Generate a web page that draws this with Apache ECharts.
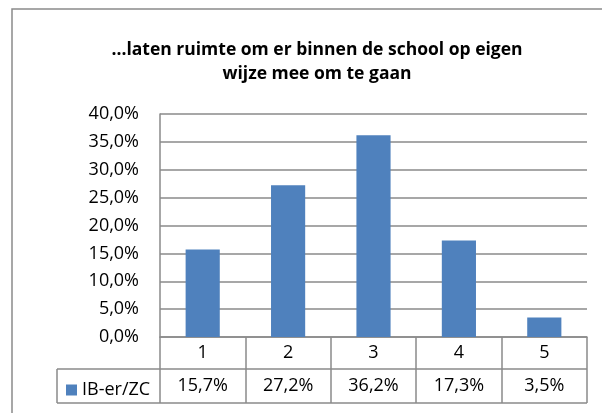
<!DOCTYPE html>
<html>
<head>
<meta charset="utf-8">
<script src="https://cdn.jsdelivr.net/npm/echarts@6/dist/echarts.min.js"></script>
<style>
  html, body { margin: 0; padding: 0; background: #fff; }
  #chart { width: 602px; height: 413px; }
</style>
</head>
<body>
<div id="chart"></div>
<script>
// Survey answers on a 1–5 scale, share of respondents per answer
const categories = ['1', '2', '3', '4', '5'];
const seriesName = 'IB-er/ZC';
const shares = [15.7, 27.2, 36.2, 17.3, 3.5];
const yTicks = { min: 0, max: 40, step: 5 };
const titleText = '...laten ruimte om er binnen de school op eigen\nwijze mee om te gaan';

const FONT = '"Open Sans", Lato, sans-serif';
const GRAY = '#8a8a8a';
const BLUE = '#4f81bd';
const LABEL_SIZE = 18;

const pct = v => v.toFixed(1).replace('.', ',') + '%';

const chart = echarts.init(document.getElementById('chart'), null, { renderer: 'canvas' });

const gridLeft = 160, gridRight = 587, gridTop = 114, gridBottom = 337;
const rowMid = 369, rowEnd = 403, legendLeft = 57;

chart.setOption({
  animation: false,
  backgroundColor: '#fff',
  title: {
    text: titleText,
    left: 312,
    textAlign: 'center',
    top: 33,
    textStyle: { fontFamily: FONT, fontSize: 17.5, fontWeight: 'bold', color: '#000', lineHeight: 24 }
  },
  legend: {
    data: [seriesName],
    left: 61,
    top: 376,
    icon: 'rect',
    itemWidth: 11,
    itemHeight: 11,
    itemGap: 0,
    textStyle: { fontFamily: FONT, fontSize: LABEL_SIZE, color: '#000', padding: [0, 0, 0, 0] }
  },
  grid: {
    left: gridLeft,
    right: 602 - gridRight,
    top: gridTop,
    bottom: 413 - gridBottom,
    containLabel: false
  },
  xAxis: [
    {
      type: 'category',
      data: categories,
      position: 'bottom',
      axisLine: { show: true, lineStyle: { color: GRAY, width: 1.5 } },
      axisTick: { show: true, inside: false, length: rowEnd - gridBottom, lineStyle: { color: GRAY, width: 1.5 } },
      axisLabel: { margin: 16, verticalAlign: 'middle', fontFamily: FONT, fontSize: LABEL_SIZE, color: '#000' }
    },
    {
      type: 'category',
      data: categories,
      position: 'bottom',
      axisLine: { show: false },
      axisTick: { show: false },
      axisLabel: {
        margin: 49,
        verticalAlign: 'middle',
        fontFamily: FONT, fontSize: LABEL_SIZE, color: '#000',
        formatter: (v, i) => pct(shares[i])
      }
    }
  ],
  yAxis: {
    type: 'value',
    min: yTicks.min,
    max: yTicks.max,
    interval: yTicks.step,
    axisLine: { show: true, lineStyle: { color: GRAY, width: 1.5 } },
    axisTick: { show: false },
    splitLine: { show: true, lineStyle: { color: GRAY, width: 1.5 } },
    axisLabel: { margin: 21, fontFamily: FONT, fontSize: LABEL_SIZE, color: '#000', formatter: v => pct(v) }
  },
  series: [{
    name: seriesName,
    type: 'bar',
    data: shares,
    barWidth: '40%',
    itemStyle: { color: BLUE },
    xAxisIndex: 0
  }],
  graphic: [
    // outer chart frame (runs past the right and bottom edges)
    { type: 'rect', shape: { x: 12, y: 9, width: 620, height: 430 }, style: { fill: null, stroke: GRAY, lineWidth: 1.5 }, silent: true },
    // data table rules
    { type: 'line', shape: { x1: legendLeft, y1: rowMid, x2: gridRight, y2: rowMid }, style: { stroke: GRAY, lineWidth: 1.5 } },
    { type: 'line', shape: { x1: legendLeft, y1: rowEnd, x2: gridRight, y2: rowEnd }, style: { stroke: GRAY, lineWidth: 1.5 } },
    { type: 'line', shape: { x1: legendLeft, y1: rowMid, x2: legendLeft, y2: rowEnd }, style: { stroke: GRAY, lineWidth: 1.5 } }
  ]
});
</script>
</body>
</html>
